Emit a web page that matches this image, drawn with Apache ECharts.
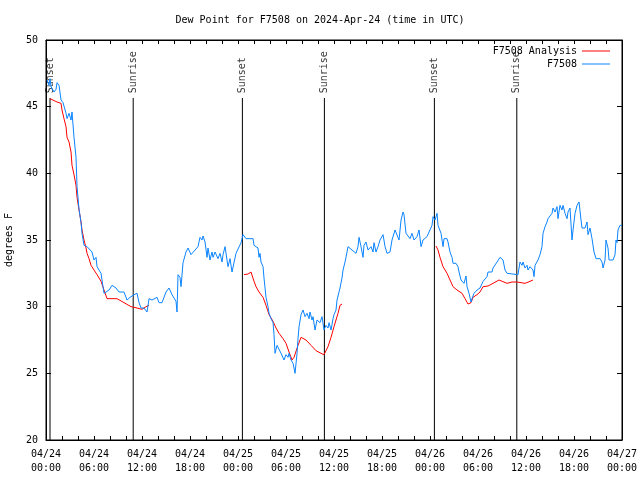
<!DOCTYPE html>
<html>
<head>
<meta charset="utf-8">
<script src="https://cdn.jsdelivr.net/npm/echarts@6/dist/echarts.min.js"></script>
<style>
html,body{margin:0;padding:0;background:#fff;}
#chart{width:640px;height:480px;}
</style>
</head>
<body>
<div id="chart"></div>
<script>
// hours since 2024-04-24 00:00 UTC
const tickLabels = ['04/24\n00:00','04/24\n06:00','04/24\n12:00','04/24\n18:00','04/25\n00:00','04/25\n06:00','04/25\n12:00','04/25\n18:00','04/26\n00:00','04/26\n06:00','04/26\n12:00','04/26\n18:00','04/27\n00:00'];

const stationHours = [0.13,0.38,0.5,0.63,0.75,1.0,1.25,1.38,1.63,1.88,2.13,2.5,2.63,2.88,3.13,3.25,3.5,3.75,3.88,4.13,4.38,4.5,4.75,5.13,5.75,6.0,6.25,6.38,6.88,7.0,7.25,7.5,7.88,8.25,8.75,9.13,9.75,10.13,10.5,11.0,11.38,11.63,11.88,12.25,12.63,12.88,13.25,13.88,14.13,14.5,15.0,15.38,15.75,16.25,16.38,16.5,16.75,16.88,17.13,17.5,17.75,18.13,18.63,19.0,19.25,19.5,19.63,19.88,20.13,20.25,20.5,20.75,20.88,21.13,21.5,21.75,22.0,22.13,22.38,22.63,22.75,23.0,23.25,23.5,23.75,24.0,24.38,24.63,25.0,25.88,26.0,26.25,26.5,26.63,26.75,26.88,27.13,27.25,27.5,27.75,27.88,28.13,28.38,28.5,28.63,28.88,29.13,29.38,29.63,29.75,30.0,30.25,30.38,30.63,30.88,31.0,31.13,31.38,31.5,31.63,31.88,32.13,32.25,32.38,32.63,32.88,33.0,33.25,33.38,33.63,33.88,34.13,34.25,34.5,34.63,34.75,35.0,35.25,35.38,35.63,35.88,36.0,36.25,36.38,36.63,36.75,37.0,37.13,37.38,37.63,37.75,38.0,38.25,38.5,38.75,39.0,39.13,39.38,39.63,39.75,40.0,40.25,40.38,40.63,40.88,41.0,41.25,41.5,41.75,42.13,42.38,42.63,43.0,43.25,43.63,43.88,44.13,44.38,44.63,44.75,45.0,45.25,45.5,45.75,46.0,46.38,46.63,46.88,47.13,47.63,47.88,48.25,48.38,48.63,48.88,49.0,49.13,49.38,49.63,49.75,50.13,50.25,50.5,50.75,50.88,51.25,51.5,51.63,51.88,52.13,52.25,52.5,52.63,52.88,53.13,53.25,53.5,53.88,54.25,54.63,55.13,55.25,55.75,55.88,56.38,56.75,57.13,57.38,57.63,57.75,59.0,59.25,59.5,59.63,59.88,60.13,60.25,60.5,60.88,61.0,61.13,61.38,61.5,61.75,62.0,62.13,62.38,62.63,62.75,63.0,63.25,63.38,63.63,63.88,64.0,64.25,64.5,64.63,64.88,65.13,65.25,65.5,65.75,65.88,66.13,66.38,66.63,66.88,67.0,67.38,67.63,67.75,68.0,68.25,68.38,68.5,68.75,69.25,69.5,69.63,69.88,70.0,70.25,70.38,70.88,71.13,71.25,71.38,71.5,71.75,72.0];
const stationValues = [47.0,46.6,47.1,46.5,46.4,46.1,46.3,46.8,46.6,45.5,45.3,44.5,44.1,44.5,44.0,44.6,42.7,41.2,39.0,37.3,36.3,35.5,34.6,34.5,34.1,33.5,33.7,33.0,32.5,32.0,31.0,31.1,31.25,31.6,31.4,31.1,31.1,30.5,30.7,30.9,31.0,30.3,29.9,29.9,29.6,30.6,30.5,30.7,30.3,30.3,31.1,31.4,30.9,30.4,29.6,32.4,32.2,31.5,33.3,34.1,34.4,33.9,34.25,34.5,35.2,35.0,35.3,34.85,33.7,34.4,33.5,34.1,33.7,34.1,33.6,34.0,33.35,33.9,34.5,34.5,33.0,33.6,32.6,32.6,34.0,34.1,34.8,35.4,35.1,35.1,34.6,34.7,34.4,33.7,34.0,33.35,33.0,32.15,30.7,30.0,29.5,29.1,28.8,27.9,26.5,27.1,27.1,26.5,26.4,26.0,26.4,26.2,26.5,26.0,25.75,25.4,25.0,26.5,27.6,28.5,29.4,29.75,29.9,29.25,29.5,29.1,29.6,29.0,29.25,28.25,29.0,29.1,28.8,29.25,29.25,28.25,28.6,28.4,28.8,28.25,29.1,29.4,29.75,30.5,30.35,31.4,32.15,32.75,33.35,34.1,34.5,34.6,34.25,34.4,34.0,34.5,35.2,34.5,33.7,34.6,34.85,34.25,34.1,34.5,34.1,34.8,34.1,34.5,35.0,35.4,34.5,34.0,34.1,35.0,35.75,35.9,35.0,36.5,37.1,36.9,35.5,35.4,35.1,35.5,35.0,35.25,35.75,34.5,35.0,35.25,35.6,36.1,36.75,36.5,37.0,36.1,36.25,35.5,34.5,35.1,35.1,34.85,34.1,33.7,33.25,33.25,33.0,32.6,32.0,32.15,31.75,32.3,31.5,31.0,30.35,30.6,31.0,31.25,31.4,31.9,32.25,32.6,32.6,32.9,33.35,33.7,33.5,32.75,32.5,32.4,32.4,33.35,33.1,33.35,32.9,33.1,32.75,33.0,32.75,32.25,33.1,33.0,33.5,33.9,34.5,35.5,36.0,36.35,36.6,36.5,37.0,37.4,37.1,37.5,36.6,37.6,37.25,37.6,37.0,36.6,37.1,37.4,35.0,35.75,37.0,37.6,37.85,36.5,35.9,35.9,36.35,35.4,35.9,35.1,35.25,34.1,33.6,33.6,33.35,32.9,33.5,35.0,34.4,33.5,33.5,33.9,35.0,34.8,35.75,36.1,36.1];

const analysis1Hours = [0.5,1.38,1.88,2.0,2.25,2.5,2.63,2.88,3.13,3.25,3.5,3.75,3.88,4.13,4.38,4.5,4.75,5.0,5.13,5.38,5.63,6.0,6.38,6.88,7.25,7.63,8.88,9.75,10.63,11.38,12.0,12.5,12.88];
const analysis1Values = [45.6,45.35,45.25,44.75,44.1,43.5,42.7,42.35,41.6,40.6,39.9,39.1,38.2,37.25,36.35,35.75,35.0,34.4,34.0,33.6,33.1,32.75,32.4,31.9,31.25,30.6,30.6,30.3,30.0,29.9,29.8,30.0,30.1];
const analysis2Hours = [24.75,25.25,25.63,25.88,26.0,26.25,26.63,27.13,27.5,27.88,28.38,28.75,29.13,29.63,30.0,30.38,30.75,31.0,31.5,31.88,32.5,33.13,33.75,34.38,34.75,35.25,35.63,36.0,36.5,36.75,37.0];
const analysis2Values = [32.4,32.45,32.6,32.75,31.9,31.5,31.1,30.7,30.1,29.4,28.9,28.4,28.0,27.6,27.25,26.6,26.0,26.2,27.1,27.7,27.5,27.1,26.7,26.5,26.4,27.0,27.7,28.5,29.5,30.1,30.2];
const analysis3Hours = [48.75,49.0,49.25,49.63,50.13,50.5,50.88,51.38,52.0,52.38,52.75,53.13,53.38,53.88,54.25,54.63,55.25,55.88,56.63,57.63,58.25,58.88,59.88,60.5,60.88];
const analysis3Values = [34.55,34.25,33.7,33.0,32.5,32.0,31.5,31.25,31.0,30.6,30.2,30.3,30.7,30.9,31.1,31.5,31.55,31.75,32.0,31.75,31.85,31.85,31.75,31.9,32.0];

const eventHours = [0.5,10.9,24.55,34.8,48.55,58.85];
const eventNames = ['Sunset','Sunrise','Sunset','Sunrise','Sunset','Sunrise'];
const eventLineTop = 45.65;
const eventLabelY = 46.0;

const FONT = 'DejaVu Sans Mono';
const zip = (a,b)=>a.map((v,i)=>[v,b[i]]);

const chart = echarts.init(document.getElementById('chart'), null, {renderer:'canvas'});

const series = [];
[[analysis1Hours,analysis1Values],[analysis2Hours,analysis2Values],[analysis3Hours,analysis3Values]].forEach(([h,v])=>{
  series.push({name:'F7508 Analysis', type:'line', data:zip(h,v), showSymbol:false, symbol:'none',
    lineStyle:{color:'#ff0000', width:1}, itemStyle:{color:'#ff0000'}, animation:false, z:3});
});
series.push({name:'F7508', type:'line', data:zip(stationHours,stationValues), showSymbol:false, symbol:'none',
  lineStyle:{color:'#0a84ff', width:1}, itemStyle:{color:'#0a84ff'}, animation:false, z:4});
eventHours.forEach(h=>{
  series.push({type:'line', data:[[h,20],[h,eventLineTop]], symbol:'none', silent:true,
    lineStyle:{color:'#000', width:1}, animation:false, z:2});
});
series.push({type:'scatter', data:eventHours.map(h=>[h,eventLabelY]), symbolSize:0, silent:true, animation:false,
  label:{show:true, formatter:p=>eventNames[p.dataIndex], rotate:90, position:[0,0], align:'left', verticalAlign:'middle',
    color:'#000', fontFamily:FONT, fontSize:10}});

const tickStyle = {show:true, inside:true, length:4, lineStyle:{color:'#000', width:1}};
const option = {
  backgroundColor:'#fff',
  animation:false,
  title:{text:'Dew Point for F7508 on 2024-Apr-24 (time in UTC)', left:'center', top:10,
    textStyle:{fontFamily:FONT, fontSize:10, fontWeight:'normal', color:'#000'}},
  legend:{data:['F7508 Analysis','F7508'], orient:'vertical', right:25, top:41, align:'right',
    icon:'rect', itemWidth:28, itemHeight:1, itemGap:3,
    textStyle:{fontFamily:FONT, fontSize:10, color:'#000', padding:[0,0,0,0]}},
  grid:{left:46, right:18, top:40, bottom:40, containLabel:false, outerBoundsMode:'none', show:true, borderColor:'#000', borderWidth:1},
  xAxis:[{type:'value', min:0, max:72, interval:6, position:'bottom',
    axisLine:{show:true, onZero:false, lineStyle:{color:'#000', width:1}},
    axisTick:tickStyle, minorTick:{show:true, splitNumber:3, length:4, lineStyle:{color:'#000', width:1}},
    splitLine:{show:false}, minorSplitLine:{show:false},
    axisLabel:{margin:7, fontFamily:FONT, fontSize:10, color:'#000', lineHeight:14,
      formatter:v=>tickLabels[Math.round(v/6)]}},
   {type:'value', min:0, max:72, interval:6, position:'top',
    axisLine:{show:true, onZero:false, lineStyle:{color:'#000', width:1}},
    axisTick:tickStyle, minorTick:{show:true, splitNumber:3, length:4, lineStyle:{color:'#000', width:1}},
    splitLine:{show:false}, axisLabel:{show:false}}],
  yAxis:[{type:'value', min:20, max:50, interval:5, position:'left', name:'degrees F', nameLocation:'middle', nameGap:32,
    nameTextStyle:{fontFamily:FONT, fontSize:10, color:'#000'},
    axisLine:{show:true, onZero:false, lineStyle:{color:'#000', width:1}},
    axisTick:Object.assign({}, tickStyle, {length:5}), splitLine:{show:false},
    axisLabel:{margin:8, fontFamily:FONT, fontSize:10, color:'#000'}},
   {type:'value', min:20, max:50, interval:5, position:'right',
    axisLine:{show:true, onZero:false, lineStyle:{color:'#000', width:1}},
    axisTick:Object.assign({}, tickStyle, {length:5}), splitLine:{show:false}, axisLabel:{show:false}}],
  series:series
};
chart.setOption(option);
</script>
</body>
</html>
